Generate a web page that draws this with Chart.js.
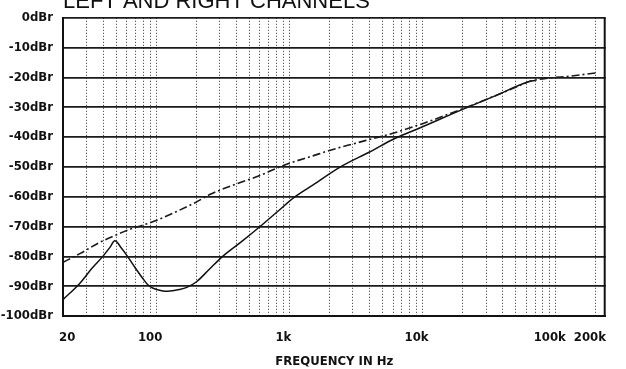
<!DOCTYPE html>
<html><head><meta charset="utf-8">
<script src="https://cdn.jsdelivr.net/npm/chart.js@4/dist/chart.umd.min.js"></script>
<style>html,body{margin:0;padding:0;background:#fff;overflow:hidden;}</style>
</head><body>
<canvas id="c" width="626" height="369"></canvas>
<script>
const chartTitle = 'LEFT AND RIGHT CHANNELS';
const xAxisTitle = 'FREQUENCY IN Hz';
const gridFreqs = [20,30,40,50,60,70,80,90,100,200,300,400,500,600,700,800,900,1000,2000,3000,4000,5000,6000,7000,8000,9000,10000,20000,30000,40000,50000,60000,70000,80000,90000,100000,200000];
const xTickLabels = {20:'     20',100:'100',1000:'1k',10000:'10k',100000:'100k',200000:'200k'};
const yTickValues = [0,-10,-20,-30,-40,-50,-60,-70,-80,-90,-100];

const dashedFreqs = [20,27,37,49,63,80,100,150,200,255,400,600,800,1000,1500,2000,3000,4000,6000,10000,20000,30000,50000,64000,90000,126000,200000];
const dashedDb    = [-82,-79,-75.5,-73,-71,-69.5,-68,-64.5,-61.8,-59.2,-55.7,-52.9,-50.5,-48.8,-46.3,-44.5,-42.3,-40.8,-38.7,-35.5,-30.5,-27.4,-23.3,-21.3,-20.2,-19.6,-18.5];

const solidFreqs = [20,26.8,33,39.8,45,49,55,61,70,80,87,95,110,122,150,170,200,250,316,440,603,800,1105,1500,2420,4000,6240,9700,14000,20000,35000,64000,70000];
const solidDb    = [-94.5,-89,-84,-80,-77,-74.8,-77.3,-80,-84,-87.6,-89.6,-90.7,-91.5,-91.7,-91.1,-90.4,-88.6,-84.4,-80,-75,-70,-65.3,-60,-56.1,-50,-45,-40.4,-36.8,-33.7,-30.7,-26.2,-21.3,-21];

const toPts = (xs, ys) => xs.map((x, i) => ({x, y: ys[i]}));
const narrow = '"DejaVu Sans Condensed", "Liberation Sans Narrow", "Arial Narrow", sans-serif';

const framePlugin = {
  id: 'frame',
  beforeDraw(chart) {
    const ctx = chart.ctx;
    ctx.save(); ctx.fillStyle = '#fff'; ctx.fillRect(0, 0, chart.width, chart.height); ctx.restore();
  },
  afterDraw(chart) {
    const {ctx, chartArea: a} = chart;
    ctx.save();
    ctx.strokeStyle = '#111'; ctx.lineWidth = 2;
    ctx.beginPath(); ctx.moveTo(a.right - 1, a.top); ctx.lineTo(a.right - 1, a.bottom); ctx.stroke();
    ctx.font = '400 22px "Liberation Sans", Arial, sans-serif';
    ctx.fillStyle = '#111'; ctx.textBaseline = 'alphabetic'; ctx.textAlign = 'left';
    ctx.fillText(chartTitle, a.left, 8, 312);
    ctx.restore();
  }
};

new Chart(document.getElementById('c'), {
  type: 'line',
  data: {
    datasets: [
      {label: 'Left', data: toPts(dashedFreqs, dashedDb), borderColor: '#1a1a1a', borderWidth: 1.6,
       borderDash: [8, 3, 2, 3], pointRadius: 0, fill: false, cubicInterpolationMode: 'monotone'},
      {label: 'Right', data: toPts(solidFreqs, solidDb), borderColor: '#111', borderWidth: 1.5,
       pointRadius: 0, fill: false, cubicInterpolationMode: 'monotone'}
    ]
  },
  options: {
    responsive: false, animation: false, devicePixelRatio: 1,
    layout: {padding: {top: 14, right: 1, left: 0, bottom: 0}},
    plugins: {legend: {display: false}, tooltip: {enabled: false}, title: {display: false}},
    scales: {
      x: {
        type: 'logarithmic', min: 20, max: 237000,
        afterBuildTicks: s => { s.ticks = gridFreqs.map(v => ({value: v})); },
        afterFit: s => { s.height = 53; },
        ticks: {autoSkip: false, maxRotation: 0, minRotation: 0, padding: 14, labelOffset: -6,
          color: '#111', font: {family: narrow, size: 13, weight: 'bold'},
          callback: v => xTickLabels[v] || ''},
        grid: {color: '#333', lineWidth: 1, drawTicks: false},
        border: {display: true, color: '#111', width: 2, dash: [1, 2]},
        title: {display: true, text: xAxisTitle, color: '#111', padding: {top: 0, bottom: 0},
          font: {family: narrow, size: 13, weight: 'bold'}}
      },
      y: {
        min: -100, max: 0,
        afterBuildTicks: s => { s.ticks = yTickValues.map(v => ({value: v})); },
        afterFit: s => { s.width = 63; },
        ticks: {padding: 10, color: '#111', font: {family: narrow, size: 13, weight: 'bold'},
          callback: v => v + 'dBr'},
        grid: {color: '#1a1a1a', lineWidth: 1.7, drawTicks: false},
        border: {display: true, color: '#111', width: 2}
      }
    }
  },
  plugins: [framePlugin]
});
</script>
</body></html>
